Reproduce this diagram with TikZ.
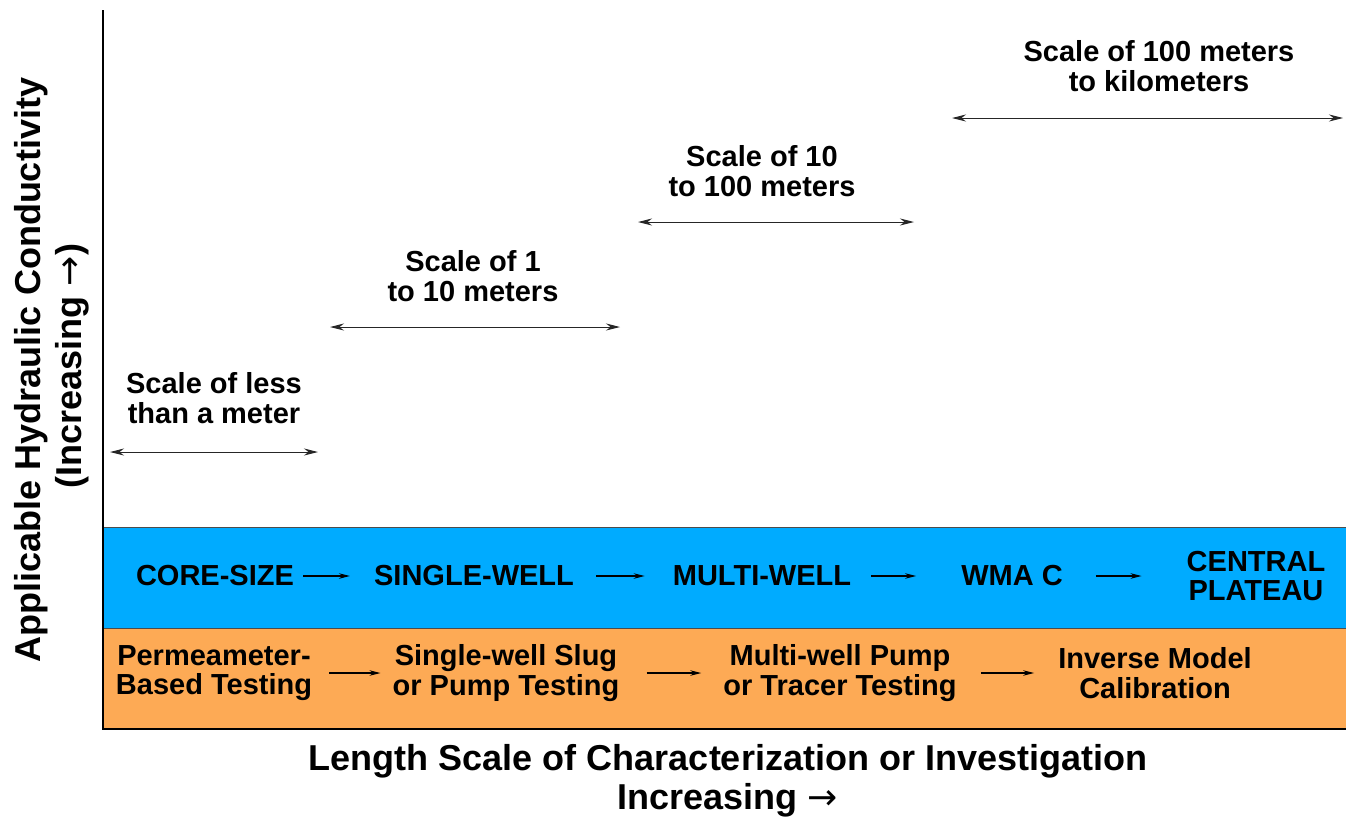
\documentclass[tikz,border=0pt]{standalone}
\usepackage{fontspec}
\setmainfont{Liberation Sans}
\newfontfamily\arrowfont{DejaVu Sans}
\usetikzlibrary{arrows.meta}
\definecolor{bandblue}{RGB}{0,171,255}
\definecolor{bandorange}{RGB}{253,170,85}
\newcommand{\incarrow}{{\arrowfont\mdseries →}}
\tikzstyle{lbl} = [align=center, inner sep=0pt, font=\fontsize{29}{29.5}\selectfont\bfseries]
\tikzstyle{axislbl} = [inner sep=0pt, font=\fontsize{36}{40}\selectfont\bfseries]
\tikzstyle{span} = [line width=1pt, draw=black!85, {Stealth[length=14pt,width=7pt]}-{Stealth[length=14pt,width=7pt]}]
\tikzstyle{flow} = [line width=1.2pt, -{Stealth[length=11pt,width=5.5pt]}]

\begin{document}
\begin{tikzpicture}[x=1pt,y=-1pt]
\useasboundingbox (0,0) rectangle (1346,817);
% bands
\fill[bandblue] (103,527) rectangle (1346,628);
\fill[bandorange] (103,628) rectangle (1346,729);
\draw[line width=1pt, black!70] (103,527) -- (1346,527);
\draw[line width=1pt, black!70] (103,628) -- (1346,628);
\draw[line width=2pt] (103,729) -- (1346,729);
\draw[line width=2.5pt] (103,10) -- (103,730);

% scale ranges
\node[lbl] (lessm) at (214,398) {Scale of less\\than a meter};
\node[lbl] (onem) at (473,276) {Scale of 1\\to 10 meters};
\node[lbl] (tenm) at (762,171) {Scale of 10\\to 100 meters};
\node[lbl] (hundm) at (1159,66) {Scale of 100 meters\\to kilometers};
\coordinate (lessa) at (110,452); \coordinate (lessb) at (318,452);
\coordinate (onea) at (330,327); \coordinate (oneb) at (620,327);
\coordinate (tena) at (638,222); \coordinate (tenb) at (914,222);
\coordinate (hunda) at (952,118); \coordinate (hundb) at (1343,118);
\draw[span] (lessa) -- (lessb);
\draw[span] (onea) -- (oneb);
\draw[span] (tena) -- (tenb);
\draw[span] (hunda) -- (hundb);

% blue row
\node[lbl] (core) at (215,576) {CORE-SIZE};
\node[lbl] (single) at (474,576) {SINGLE-WELL};
\node[lbl] (multi) at (762,576) {MULTI-WELL};
\node[lbl] (wmac) at (1012,576) {WMA C};
\node[lbl] (plateau) at (1256,576) {CENTRAL\\PLATEAU};
\draw[flow, shorten <=9pt, shorten >=24pt] (core.east) -- (single.west);
\draw[flow, shorten <=22pt, shorten >=28pt] (single.east) -- (multi.west);
\draw[flow, shorten <=20pt, shorten >=45pt] (multi.east) -- (wmac.west);
\draw[flow, shorten <=33pt, shorten >=45pt] (wmac.east) -- (plateau.west);

% orange row
\node[lbl] (perm) at (214,673) {Permeameter-\\Based Testing};
\node[lbl] (slug) at (506,673) {Single-well Slug\\or Pump Testing};
\node[lbl] (tracer) at (840,673) {Multi-well Pump\\or Tracer Testing};
\node[lbl] (inverse) at (1155,673) {Inverse Model\\Calibration};
\draw[flow, shorten <=17pt, shorten >=12pt] (perm.east) -- (slug.west);
\draw[flow, shorten <=27pt, shorten >=22pt] (slug.east) -- (tracer.west);
\draw[flow, shorten <=24pt, shorten >=24pt] (tracer.east) -- (inverse.west);

% axis labels
\node[axislbl, rotate=90] (ylab) at (31,370) {Applicable Hydraulic Conductivity};
\node[axislbl, rotate=90] (yinc) at (72,366) {(Increasing \incarrow)};
\node[axislbl] (xlab) at (728,761) {Length Scale of Characterization or Investigation};
\node[axislbl] (xinc) at (728,800) {Increasing \incarrow};
\end{tikzpicture}
\end{document}
